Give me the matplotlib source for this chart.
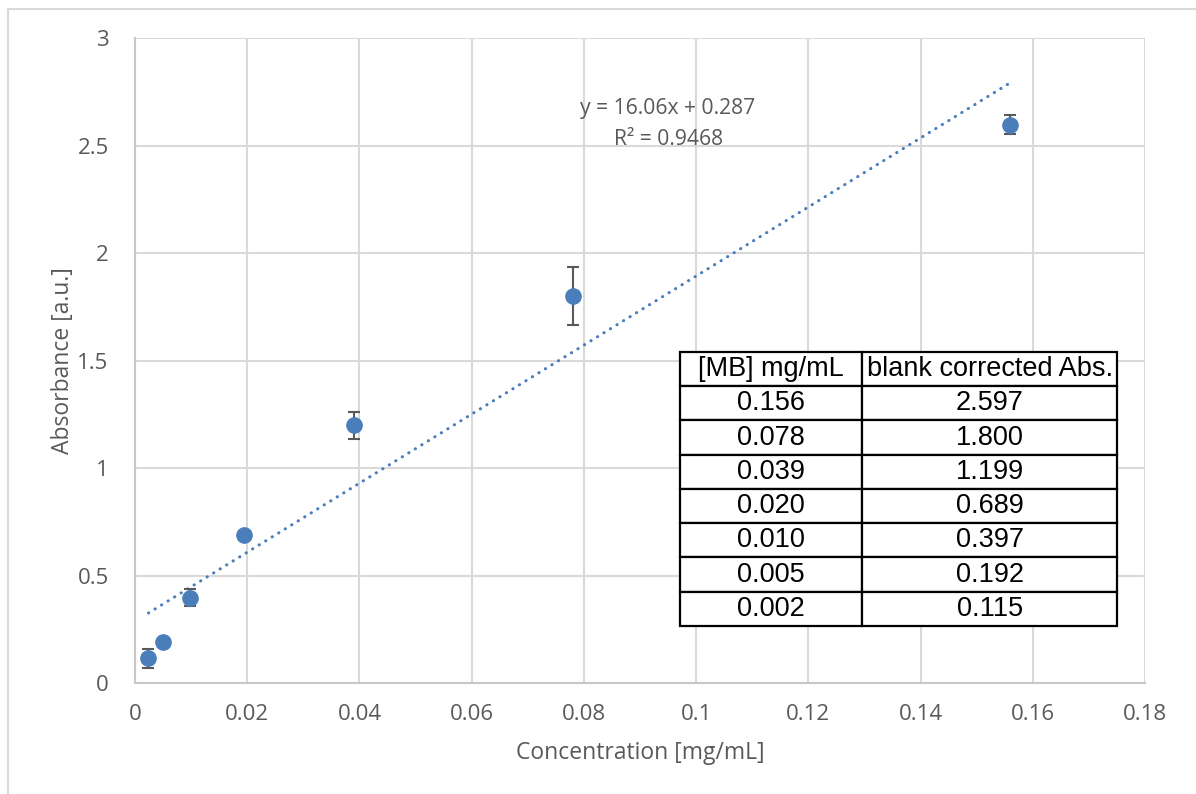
import matplotlib.pyplot as plt
import numpy as np
from matplotlib.lines import Line2D

# data
conc = [0.156, 0.078, 0.039, 0.0195, 0.0098, 0.0049, 0.0024]
absorb = [2.597, 1.800, 1.199, 0.689, 0.397, 0.192, 0.115]
err = [0.045, 0.137, 0.063, 0.01, 0.04, 0.01, 0.045]

slope = 16.06
intercept = 0.287
r2 = 0.9468

tbl_header = ['[MB] mg/mL', 'blank corrected Abs.']
tbl_conc = ['0.156', '0.078', '0.039', '0.020', '0.010', '0.005', '0.002']
tbl_abs = ['2.597', '1.800', '1.199', '0.689', '0.397', '0.192', '0.115']

xticks = [0, 0.02, 0.04, 0.06, 0.08, 0.1, 0.12, 0.14, 0.16, 0.18]
yticks = [0, 0.5, 1, 1.5, 2, 2.5, 3]

blue = '#4A7EBB'
grey_txt = '#595959'

plt.rcParams['font.family'] = ['Open Sans', 'DejaVu Sans']

fig = plt.figure(figsize=(11.96, 7.94), dpi=100)
ax = fig.add_axes([0.1129, 0.1398, 0.8445, 0.8123])

# outer chart border (only left/top visible in the crop)
fig.add_artist(Line2D([0.0067, 0.0067], [0, 0.9887], color='#D9D9D9', lw=1.5))
fig.add_artist(Line2D([0.0067, 1], [0.9887, 0.9887], color='#D9D9D9', lw=1.5))

ax.errorbar(conc, absorb, yerr=err, fmt='none', ecolor='#595959',
            elinewidth=1.5, capsize=4.5, capthick=1.5, zorder=3)
ax.plot(conc, absorb, 'o', color=blue, markersize=11, zorder=4)

xf = np.array([min(conc), max(conc)])
ax.plot(xf, slope * xf + intercept, color=blue, lw=2.2,
        linestyle=(0, (0.1, 2.4)), dash_capstyle='round', zorder=2)

ax.text(0.095, 2.67, f'y = {slope}x + {intercept}', ha='center', va='center',
        fontsize=15.2, color=grey_txt)
ax.text(0.095, 2.53, f'R² = {r2}', ha='center', va='center',
        fontsize=15.2, color=grey_txt)

ax.set_xlim(0, 0.18)
ax.set_ylim(0, 3)
ax.set_xticks(xticks)
ax.set_yticks(yticks)
ax.set_xticklabels([f'{t:g}' for t in xticks])
ax.set_yticklabels([f'{t:g}' for t in yticks])
ax.tick_params(length=0, labelsize=16, labelcolor=grey_txt, pad=15)
ax.tick_params(axis='y', pad=19)
ax.grid(True, color='#D9D9D9', lw=1.5)
ax.set_axisbelow(True)
for s in ['top', 'right']:
    ax.spines[s].set_visible(False)
for s in ['left', 'bottom']:
    ax.spines[s].set_color('#C8C8C8')
    ax.spines[s].set_linewidth(1.5)

ax.set_xlabel('Concentration [mg/mL]', fontsize=16.5, color=grey_txt, labelpad=12)
ax.set_ylabel('Absorbance [a.u.]', fontsize=16.5, color=grey_txt, labelpad=2)

cells = [[c, a] for c, a in zip(tbl_conc, tbl_abs)]
tbl = ax.table(cellText=cells, colLabels=tbl_header, cellLoc='center',
               colWidths=[0.4165, 0.5835], bbox=[0.5396, 0.0884, 0.4327, 0.4248],
               zorder=5)
tbl.auto_set_font_size(False)
for (r, c), cell in tbl.get_celld().items():
    cell.set_facecolor('white')
    cell.set_edgecolor('black')
    cell.set_linewidth(1.6)
    cell.get_text().set_fontfamily('Liberation Sans')
    cell.get_text().set_fontsize(19.5)
    cell.get_text().set_color('black')

fig.savefig('out.png', dpi=100)
